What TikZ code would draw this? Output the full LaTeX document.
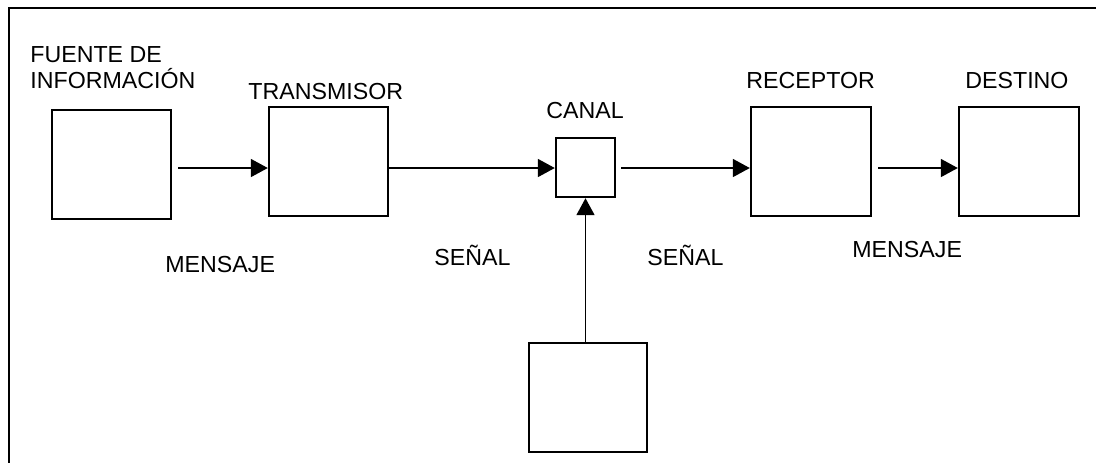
\documentclass[tikz,border=0pt]{standalone}
\usepackage{fontspec}
\setmainfont{Liberation Sans}
\usetikzlibrary{arrows.meta}

\tikzset{
  bloque/.style={draw, line width=1.2pt, minimum width=59.5pt, minimum height=54.5pt, inner sep=0pt},
  bloquechico/.style={draw, line width=1.2pt, minimum width=29.5pt, minimum height=29.5pt, inner sep=0pt},
  rotulo/.style={anchor=base west, inner sep=0pt, font=\fontsize{11.6}{14}\selectfont},
  flujo/.style={line width=0.85pt, -{Triangle[length=8.5pt,width=9pt]}}
}

\begin{document}
\begin{tikzpicture}[x=0.5pt, y=-0.5pt, line cap=butt, line join=miter]

  % Bounding box (pixels of the original figure)
  \useasboundingbox (0,0) rectangle (1096,463);

  % Frame: only top and left edges are visible
  \draw[line width=1.1pt] (1096,8) -- (9,8) -- (9,463);

  % Blocks
  \node[bloque] (fuente) at (111.5,164.5) {};
  \node[bloque] (transmisor) at (328.5,161.5) {};
  \node[bloquechico] (canal) at (585.5,167.5) {};
  \node[bloque, minimum width=60pt] (receptor) at (811,161.5) {};
  \node[bloque, minimum width=60pt] (destino) at (1019,161.5) {};
  \node[bloque, minimum width=59pt] (ruido) at (588,397.5) {};

  % Block titles
  \node[rotulo] (tfuenteA) at (30,62) {FUENTE DE};
  \node[rotulo] (tfuenteB) at (30,88) {INFORMACIÓN};
  \node[rotulo] (ttransmisor) at (248,99) {TRANSMISOR};
  \node[rotulo] (tcanal) at (546,118) {CANAL};
  \node[rotulo] (treceptor) at (746,88) {RECEPTOR};
  \node[rotulo] (tdestino) at (965,88) {DESTINO};

  % Signal labels
  \node[rotulo] (mensajeA) at (165,272) {MENSAJE};
  \node[rotulo] (senalA) at (434,265) {SEÑAL};
  \node[rotulo] (senalB) at (647,265) {SEÑAL};
  \node[rotulo] (mensajeB) at (852,257) {MENSAJE};

  % Connectors
  \draw[flujo] ([xshift=3pt, yshift=-1.75pt]fuente.east) -- ([yshift=-3.25pt]transmisor.west);
  \draw[flujo] ([yshift=-3.25pt]transmisor.east) -- ([yshift=-0.25pt]canal.west);
  \draw[flujo] ([xshift=2.5pt, yshift=-0.25pt]canal.east) -- ([yshift=-3.25pt]receptor.west);
  \draw[flujo] ([xshift=3pt, yshift=-3.25pt]receptor.east) -- ([yshift=-3.25pt]destino.west);
  \draw[flujo] (ruido.north -| canal.south) -- (canal.south);

\end{tikzpicture}
\end{document}
